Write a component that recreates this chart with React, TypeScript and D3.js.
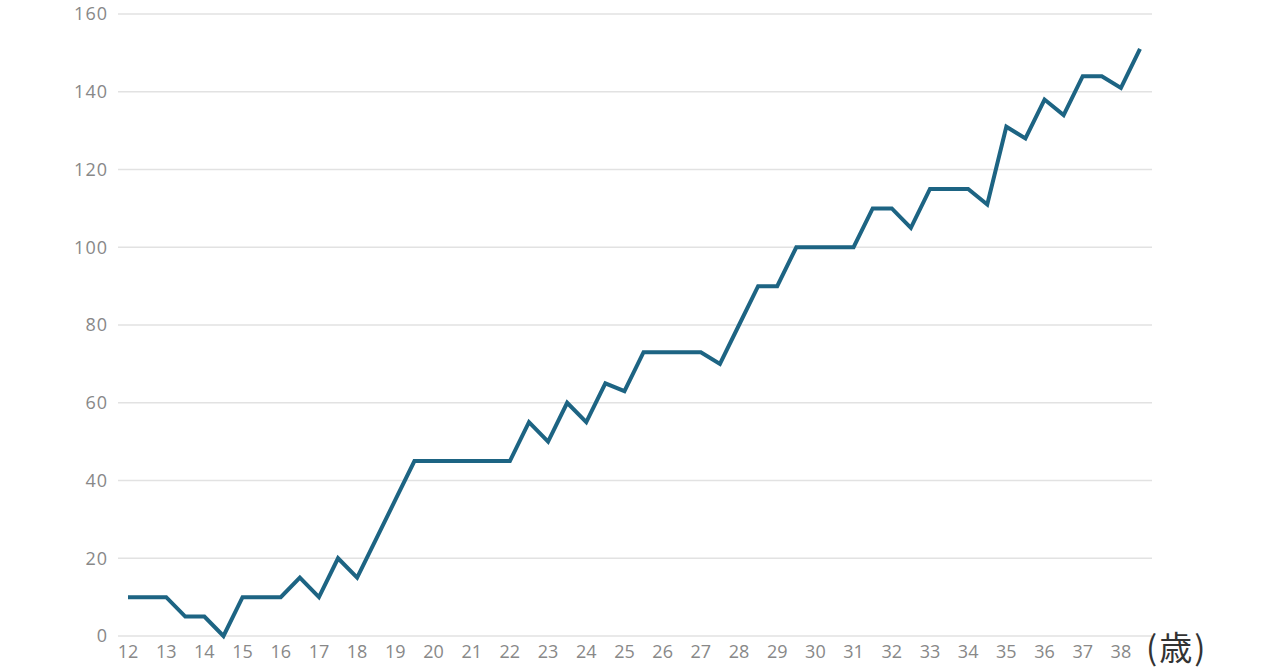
import React from "react";
import * as d3 from "d3";

const ages: number[] = [
  12, 12.5, 13, 13.5, 14, 14.5, 15, 15.5, 16, 16.5, 17, 17.5, 18, 18.5, 19, 19.5,
  20, 20.5, 21, 21.5, 22, 22.5, 23, 23.5, 24, 24.5, 25, 25.5, 26, 26.5, 27, 27.5,
  28, 28.5, 29, 29.5, 30, 30.5, 31, 31.5, 32, 32.5, 33, 33.5, 34, 34.5, 35, 35.5,
  36, 36.5, 37, 37.5, 38, 38.5,
];
const values: number[] = [
  10, 10, 10, 5, 5, 0, 10, 10, 10, 15, 10, 20, 15, 25, 35, 45,
  45, 45, 45, 45, 45, 55, 50, 60, 55, 65, 63, 73, 73, 73, 73, 70,
  80, 90, 90, 100, 100, 100, 100, 110, 110, 105, 115, 115, 115, 111, 131, 128,
  138, 134, 144, 144, 141, 151,
];
const xTicks: number[] = d3.range(12, 39);
const yTicks: number[] = [0, 20, 40, 60, 80, 100, 120, 140, 160];
const unitLabel = "(歳)";

export default function App() {
  const W = 1280, H = 670;
  const x = d3.scaleLinear().domain([12, 38.5]).range([128, 1140]);
  const y = d3.scaleLinear().domain([0, 160]).range([636, 14]);
  const gridX0 = 118, gridX1 = 1152;
  const line = d3
    .line<number>()
    .x((_, i) => x(ages[i]))
    .y((d) => y(d));
  const font = "'Open Sans', 'Noto Sans', sans-serif";
  return (
    <svg
      width={W}
      height={H}
      style={{ position: "absolute", left: 0, top: 0, background: "#fff" }}
    >
      {yTicks.map((t) => (
        <g key={t}>
          <line
            x1={gridX0}
            x2={gridX1}
            y1={y(t)}
            y2={y(t)}
            stroke="#e2e2e2"
            strokeWidth={1.5}
          />
          <text
            x={108}
            y={y(t)}
            dy="0.35em"
            textAnchor="end"
            fontFamily={font}
            fontSize={18}
            letterSpacing={1}
            fill="#888"
          >
            {t}
          </text>
        </g>
      ))}
      {xTicks.map((t) => (
        <text
          key={t}
          x={x(t)}
          y={652}
          dy="0.35em"
          textAnchor="middle"
          fontFamily={font}
          fontSize={18}
          fill="#888"
        >
          {t}
        </text>
      ))}
      <text
        x={1146}
        y={648}
        dy="0.35em"
        fontFamily="'Noto Sans CJK JP', sans-serif"
        fontSize={33}
        letterSpacing={2}
        fill="#333"
      >
        {unitLabel}
      </text>
      <path
        d={line(values) || ""}
        fill="none"
        stroke="#1d6483"
        strokeWidth={4}
        strokeLinejoin="miter"
        strokeLinecap="butt"
      />
    </svg>
  );
}
